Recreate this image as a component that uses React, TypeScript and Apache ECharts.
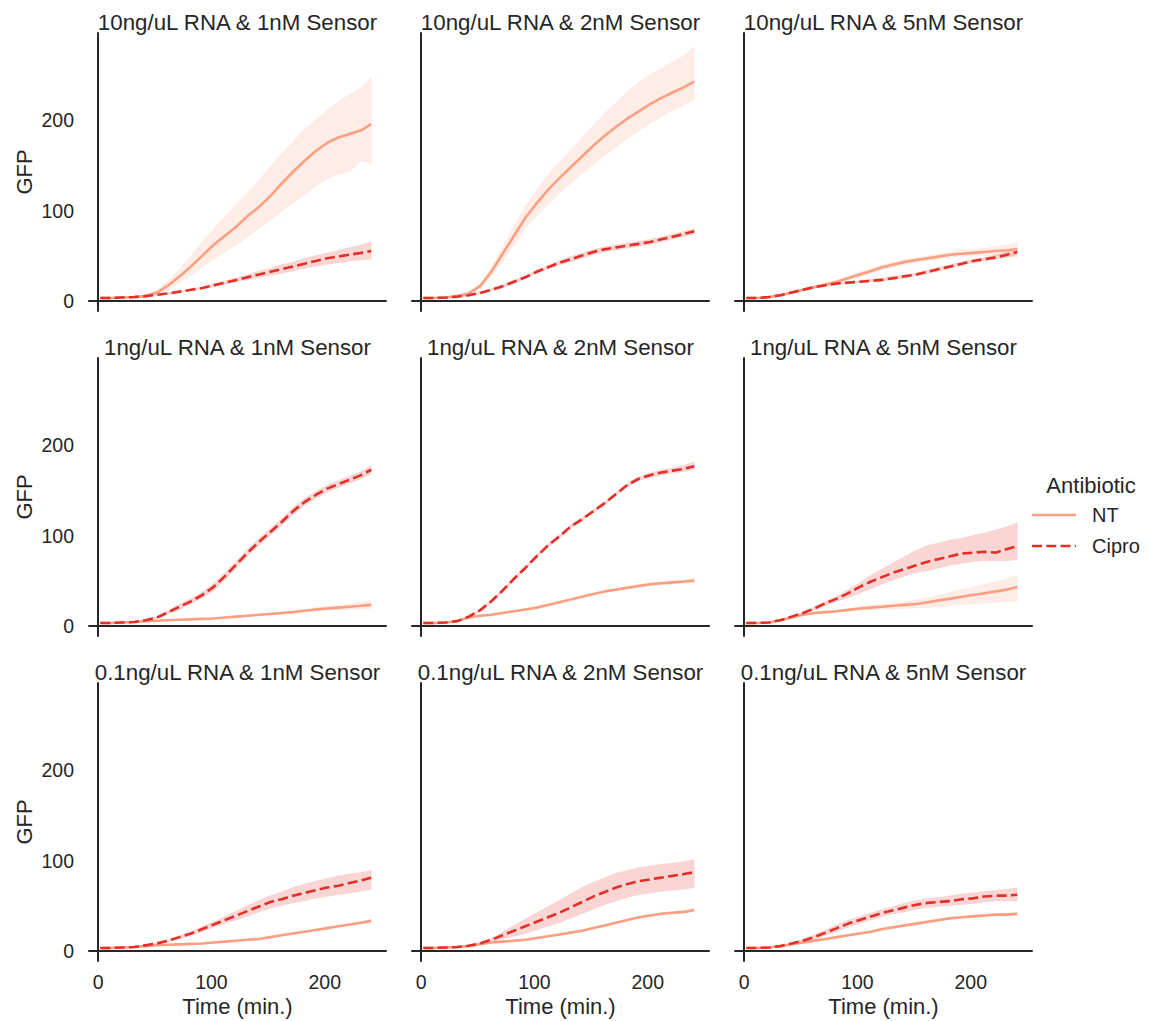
import { useEffect, useRef } from "react";
import * as echarts from "echarts";

// Sampling times (minutes) shared by every panel
const TIMES = [2, 12, 22, 32, 42, 52, 62, 72, 82, 92, 102, 112, 122, 132, 142, 152, 162, 172, 182, 192, 202, 212, 222, 232, 241];

const PANEL_TITLES = [
  "10ng/uL RNA & 1nM Sensor",
  "10ng/uL RNA & 2nM Sensor",
  "10ng/uL RNA & 5nM Sensor",
  "1ng/uL RNA & 1nM Sensor",
  "1ng/uL RNA & 2nM Sensor",
  "1ng/uL RNA & 5nM Sensor",
  "0.1ng/uL RNA & 1nM Sensor",
  "0.1ng/uL RNA & 2nM Sensor",
  "0.1ng/uL RNA & 5nM Sensor",
];

const X_TICKS = [0, 100, 200];
const Y_TICKS = [0, 100, 200];

// 10ng/uL RNA & 1nM Sensor
const P1_NT_MEAN = [3, 3, 3.5, 4, 5, 9, 17, 27, 38, 50, 62, 72, 82, 94, 104, 116, 130, 143, 155, 166, 175, 181, 185, 189, 196];
const P1_NT_HI = [4, 4, 4.5, 5, 7, 12, 22, 35, 50, 65, 80, 93, 107, 120, 134, 149, 163, 177, 190, 201, 211, 221, 229, 236, 248];
const P1_NT_LO = [2, 2, 2.5, 3, 4, 7, 12, 20, 28, 37, 46, 54, 62, 71, 80, 89, 99, 108, 117, 127, 135, 140, 143, 155, 152];
const P1_CI_MEAN = [3, 3, 3.5, 4, 5, 6.5, 8, 10, 12, 14, 17, 20, 23, 26, 29, 32, 35, 38, 41, 44, 47, 49, 51, 53, 55];
const P1_CI_HI = [3.5, 3.5, 4, 4.5, 5.5, 7, 9, 11, 13, 15, 19, 22, 25, 29, 33, 36, 40, 43, 47, 50, 53, 56, 59, 62, 65];
const P1_CI_LO = [2.5, 2.5, 3, 3.5, 4.5, 6, 7, 9, 11, 13, 15, 18, 21, 23, 26, 28, 30, 33, 36, 38, 40, 42, 44, 45, 46];

// 10ng/uL RNA & 2nM Sensor
const P2_NT_MEAN = [3, 3, 3.5, 5, 8, 16, 32, 52, 72, 92, 108, 123, 136, 148, 160, 172, 183, 193, 202, 210, 218, 225, 231, 237, 243];
const P2_NT_HI = [3.5, 3.5, 4, 6, 10, 19, 37, 60, 83, 105, 123, 140, 154, 167, 181, 195, 208, 220, 232, 242, 251, 258, 265, 272, 282];
const P2_NT_LO = [2.5, 2.5, 3, 4, 6, 13, 27, 44, 62, 80, 94, 107, 119, 130, 141, 151, 161, 170, 180, 188, 196, 204, 211, 217, 223];
const P2_CI_MEAN = [3, 3, 3.5, 4.5, 6, 8.5, 12, 16, 21, 26, 32, 37, 42, 46, 50, 54, 57, 59, 61, 63, 65, 68, 71, 74, 77];
const P2_CI_HI = [3.5, 3.5, 4, 5, 7, 10, 13.5, 18, 23, 28, 34, 39, 44.5, 49, 53, 57, 60, 62, 64, 66, 68, 71, 74, 77, 80];
const P2_CI_LO = [2.5, 2.5, 3, 4, 5, 7, 10.5, 14, 19, 24, 30, 35, 39.5, 43, 47, 51, 54, 56, 58, 60, 62, 65, 68, 71, 74];

// 10ng/uL RNA & 5nM Sensor
const P3_NT_MEAN = [3, 3, 4, 6, 9, 12, 15, 18, 21, 25, 29, 33, 37, 40, 43, 45, 47, 49, 51, 52, 53, 54, 55, 56, 57];
const P3_NT_HI = [3.5, 3.5, 4.5, 7, 10, 13, 16, 20, 23, 27, 32, 36, 40, 43, 46, 48, 50, 52, 54, 56, 57, 58, 60, 62, 65];
const P3_NT_LO = [2.5, 2.5, 3.5, 5, 8, 11, 14, 16, 19, 23, 26, 30, 34, 37, 40, 42, 44, 46, 48, 49, 50, 50, 50, 49, 48];
const P3_CI_MEAN = [3, 3, 4, 6, 9, 12, 15, 17, 19, 20, 21, 22, 23, 25, 27, 29, 32, 35, 38, 41, 44, 46, 48, 51, 54];
const P3_CI_HI = [3.5, 3.5, 4.5, 7, 10, 13, 16, 18, 20, 21, 22, 24, 25, 27, 29, 31, 34, 37, 40, 43, 46, 48, 51, 54, 58];
const P3_CI_LO = [2.5, 2.5, 3.5, 5, 8, 11, 14, 16, 18, 19, 20, 21, 22, 23, 25, 27, 30, 33, 36, 39, 42, 44, 46, 48, 51];

// 1ng/uL RNA & 1nM Sensor
const P4_NT_MEAN = [3, 3, 3.5, 4, 5, 5.5, 6, 6.5, 7, 7.5, 8, 9, 10, 11, 12, 13, 14, 15, 16.5, 18, 19, 20, 21, 22, 23];
const P4_NT_HI = [3.5, 3.5, 4, 4.5, 5.5, 6, 6.5, 7, 7.5, 8, 9, 10, 11, 12, 13, 14, 15, 16, 18, 20, 21, 23, 24, 26, 28];
const P4_NT_LO = [2.5, 2.5, 3, 3.5, 4.5, 5, 5.5, 6, 6.5, 7, 7.5, 8, 9, 10, 11, 12, 13, 14, 15, 16, 17, 17.5, 18, 18.5, 19];
const P4_CI_MEAN = [3, 3, 3.5, 4, 6, 9, 15, 21, 27, 34, 43, 55, 68, 81, 93, 104, 115, 127, 137, 145, 152, 157, 162, 167, 173];
const P4_CI_HI = [3.5, 3.5, 4, 5, 7, 10, 17, 24, 30, 37, 47, 59, 72, 85, 97, 108, 119, 131, 141, 149, 156, 161, 166, 171, 178];
const P4_CI_LO = [2.5, 2.5, 3, 3.5, 5, 8, 13, 18, 24, 31, 39, 51, 64, 77, 89, 100, 111, 123, 133, 141, 148, 153, 158, 163, 168];

// 1ng/uL RNA & 2nM Sensor
const P5_NT_MEAN = [3, 3, 3.5, 5, 9, 11, 12, 14, 16, 18, 20, 23, 26, 29, 32, 35, 38, 40, 42, 44, 46, 47, 48, 49, 50];
const P5_NT_HI = [3.5, 3.5, 4, 5.5, 9.5, 12, 13, 15, 17, 19, 21, 24, 27, 30, 33, 36, 39, 41, 44, 46, 48, 49, 50, 51, 53];
const P5_NT_LO = [2.5, 2.5, 3, 4.5, 8.5, 10, 11, 13, 15, 17, 19, 22, 25, 28, 31, 34, 37, 39, 40, 42, 44, 45, 46, 47, 47];
const P5_CI_MEAN = [3, 3, 3.5, 5, 10, 17, 27, 39, 52, 64, 77, 89, 99, 110, 118, 127, 136, 146, 156, 163, 167, 170, 172, 174, 177];
const P5_CI_HI = [3.5, 3.5, 4, 5.5, 11, 18, 29, 41, 54, 66, 79, 91, 101, 112, 120, 129, 138, 148, 158, 165, 170, 173, 175, 178, 182];
const P5_CI_LO = [2.5, 2.5, 3, 4.5, 9, 16, 25, 37, 50, 62, 75, 87, 97, 108, 116, 125, 134, 144, 154, 161, 164, 167, 169, 171, 173];

// 1ng/uL RNA & 5nM Sensor
const P6_NT_MEAN = [3, 3, 3.5, 6, 9, 12, 14, 15, 16, 17.5, 19, 20, 21, 22, 23, 24, 26, 28, 30, 32, 34, 36, 38, 40, 43];
const P6_NT_HI = [3.5, 3.5, 4, 6.5, 10, 13, 15, 16, 17, 19, 21, 22.5, 24, 25.5, 27, 29, 31, 34, 37, 40, 43, 46, 49, 52, 56];
const P6_NT_LO = [2.5, 2.5, 3, 5.5, 8, 11, 13, 14, 15, 16, 17, 17.5, 18, 18.5, 19, 19.5, 20, 21, 22, 23, 24, 25, 26, 26.5, 27];
const P6_CI_MEAN = [3, 3, 3.5, 6, 10, 14, 19, 25, 30, 36, 43, 49, 54, 59, 63, 67, 71, 74, 77, 80, 81, 82, 81, 85, 88];
const P6_CI_HI = [3.5, 3.5, 4, 6.5, 11, 15, 21, 27, 33, 40, 48, 56, 63, 70, 77, 84, 89, 92, 95, 97, 100, 103, 106, 110, 114];
const P6_CI_LO = [2.5, 2.5, 3, 5.5, 9, 13, 17, 22, 27, 31, 36, 41, 46, 51, 55, 59, 61, 64, 67, 69, 71, 72, 72, 72, 73];

// 0.1ng/uL RNA & 1nM Sensor
const P7_NT_MEAN = [3, 3, 3.5, 4, 5, 6, 6.5, 7, 7.5, 8, 9, 10, 11, 12, 13, 15, 17, 19, 21, 23, 25, 27, 29, 31, 33];
const P7_NT_HI = [3.5, 3.5, 4, 4.5, 5.5, 6.5, 7, 7.5, 8, 8.5, 9.5, 10.5, 11.5, 12.5, 13.5, 15.5, 17.5, 19.5, 22, 24, 26, 28, 30, 32.5, 35];
const P7_NT_LO = [2.5, 2.5, 3, 3.5, 4.5, 5.5, 6, 6.5, 7, 7.5, 8.5, 9.5, 10.5, 11.5, 12.5, 14.5, 16.5, 18.5, 20, 22, 24, 26, 28, 29.5, 31];
const P7_CI_MEAN = [3, 3, 3.5, 4, 6, 8, 11, 15, 19, 24, 29, 34, 39, 44, 49, 54, 57, 61, 64, 67, 70, 72, 75, 78, 81];
const P7_CI_HI = [3.5, 3.5, 4, 4.5, 7, 9, 12, 17, 21, 27, 32, 38, 44, 50, 56, 61, 65, 70, 74, 77, 80, 83, 85, 87, 89];
const P7_CI_LO = [2.5, 2.5, 3, 3.5, 5, 7, 10, 13, 17, 21, 26, 30, 34, 38, 43, 47, 50, 53, 55, 58, 60, 62, 64, 66, 68];

// 0.1ng/uL RNA & 2nM Sensor
const P8_NT_MEAN = [3, 3, 3.5, 4, 5, 7, 9, 10, 11, 12, 14, 16, 18, 20, 22, 25, 28, 31, 34, 37, 39, 41, 42, 43, 45];
const P8_NT_HI = [3.5, 3.5, 4, 4.5, 5.5, 7.5, 9.5, 11, 12, 13, 15, 17, 19, 21, 23, 26, 29, 32, 35, 38.5, 40.5, 42.5, 43.5, 44.5, 46.5];
const P8_NT_LO = [2.5, 2.5, 3, 3.5, 4.5, 6.5, 8.5, 9, 10, 11, 13, 15, 17, 19, 21, 24, 27, 30, 33, 35.5, 37.5, 39.5, 40.5, 41.5, 43.5];
const P8_CI_MEAN = [3, 3, 3.5, 4, 5.5, 8, 12, 17, 22, 27, 32, 37, 42, 48, 54, 60, 65, 70, 74, 77, 79, 81, 83, 85, 87];
const P8_CI_HI = [3.5, 3.5, 4, 4.5, 6.5, 9.5, 14, 21, 28, 35, 42, 49, 56, 63, 70, 76, 81, 86, 89, 92, 94, 96, 97, 99, 101];
const P8_CI_LO = [2.5, 2.5, 3, 3.5, 5, 7, 10, 13, 16, 19, 23, 27, 31, 36, 41, 46, 51, 55, 59, 62, 64, 66, 67, 68, 70];

// 0.1ng/uL RNA & 5nM Sensor
const P9_NT_MEAN = [3, 3, 3.5, 5, 7, 9, 11, 13, 15, 17, 19, 21, 24, 26, 28, 30, 32, 34, 36, 37, 38, 39, 40, 40, 41];
const P9_NT_HI = [3.5, 3.5, 4, 5.5, 7.5, 10, 12, 14, 16, 18, 20, 22.5, 25.5, 27.5, 29.5, 31.5, 33.5, 35.5, 37.5, 38.5, 39.5, 40.5, 41.5, 42, 43];
const P9_NT_LO = [2.5, 2.5, 3, 4.5, 6.5, 8, 10, 12, 14, 16, 18, 19.5, 22.5, 24.5, 26.5, 28.5, 30.5, 32.5, 34.5, 35.5, 36.5, 37.5, 38.5, 38, 39];
const P9_CI_MEAN = [3, 3, 3.5, 5, 8, 11, 15, 20, 25, 30, 34, 38, 42, 45, 48, 51, 53, 54, 55, 57, 58, 60, 61, 61, 62];
const P9_CI_HI = [3.5, 3.5, 4, 5.5, 9, 13, 18, 23, 29, 34, 38, 42, 46, 49, 53, 56, 58, 59, 61, 63, 64, 66, 67, 68, 70];
const P9_CI_LO = [2.5, 2.5, 3, 4.5, 7, 9, 12, 17, 21, 26, 30, 34, 38, 41, 43, 46, 48, 49, 50, 51, 52, 54, 55, 55, 55];

const NT_COLOR = "#fc9e80";
const CIPRO_COLOR = "#e32f27";
const INK = "#262626";
const FONT = "'Liberation Sans', Arial, Helvetica, sans-serif";

type Band = { mean: number[]; lo: number[]; hi: number[] };
type Panel = { title: string; nt: Band; cipro: Band };

const PANELS: Panel[] = [
  { title: PANEL_TITLES[0], nt: { mean: P1_NT_MEAN, lo: P1_NT_LO, hi: P1_NT_HI }, cipro: { mean: P1_CI_MEAN, lo: P1_CI_LO, hi: P1_CI_HI } },
  { title: PANEL_TITLES[1], nt: { mean: P2_NT_MEAN, lo: P2_NT_LO, hi: P2_NT_HI }, cipro: { mean: P2_CI_MEAN, lo: P2_CI_LO, hi: P2_CI_HI } },
  { title: PANEL_TITLES[2], nt: { mean: P3_NT_MEAN, lo: P3_NT_LO, hi: P3_NT_HI }, cipro: { mean: P3_CI_MEAN, lo: P3_CI_LO, hi: P3_CI_HI } },
  { title: PANEL_TITLES[3], nt: { mean: P4_NT_MEAN, lo: P4_NT_LO, hi: P4_NT_HI }, cipro: { mean: P4_CI_MEAN, lo: P4_CI_LO, hi: P4_CI_HI } },
  { title: PANEL_TITLES[4], nt: { mean: P5_NT_MEAN, lo: P5_NT_LO, hi: P5_NT_HI }, cipro: { mean: P5_CI_MEAN, lo: P5_CI_LO, hi: P5_CI_HI } },
  { title: PANEL_TITLES[5], nt: { mean: P6_NT_MEAN, lo: P6_NT_LO, hi: P6_NT_HI }, cipro: { mean: P6_CI_MEAN, lo: P6_CI_LO, hi: P6_CI_HI } },
  { title: PANEL_TITLES[6], nt: { mean: P7_NT_MEAN, lo: P7_NT_LO, hi: P7_NT_HI }, cipro: { mean: P7_CI_MEAN, lo: P7_CI_LO, hi: P7_CI_HI } },
  { title: PANEL_TITLES[7], nt: { mean: P8_NT_MEAN, lo: P8_NT_LO, hi: P8_NT_HI }, cipro: { mean: P8_CI_MEAN, lo: P8_CI_LO, hi: P8_CI_HI } },
  { title: PANEL_TITLES[8], nt: { mean: P9_NT_MEAN, lo: P9_NT_LO, hi: P9_NT_HI }, cipro: { mean: P9_CI_MEAN, lo: P9_CI_LO, hi: P9_CI_HI } },
];

// Facet grid geometry
const GRID_LEFT0 = 89;
const GRID_TOP0 = 33;
const GRID_W = 297;
const GRID_H = 278;
const COL_STEP = 323;
const ROW_STEP = 325;

const LINE_W = 2.6;
const DASH = [10, 4.3];

// Confidence band: one polygon through the upper edge and back along the lower edge
function bandRenderer(fill: string) {
  return (params: any, api: any) => {
    if (params.dataIndexInside !== 0) return null;
    const n = params.dataInsideLength;
    const upper: number[][] = [];
    const lower: number[][] = [];
    for (let k = 0; k < n; k++) {
      const t = api.value(0, k);
      upper.push(api.coord([t, api.value(2, k)]));
      lower.push(api.coord([t, api.value(1, k)]));
    }
    return {
      type: "polygon",
      shape: { points: upper.concat(lower.reverse()) },
      style: { fill, opacity: 0.2, stroke: fill, lineWidth: 0.6, strokeOpacity: 0.5 },
      silent: true,
    };
  };
}

function buildOption() {
  const grids: any[] = [];
  const xAxes: any[] = [];
  const yAxes: any[] = [];
  const series: any[] = [];
  const graphics: any[] = [];

  PANELS.forEach((p, i) => {
    const row = Math.floor(i / 3);
    const col = i % 3;
    const left = GRID_LEFT0 + col * COL_STEP;
    const top = GRID_TOP0 + row * ROW_STEP;
    grids.push({ left, top, width: GRID_W, height: GRID_H, containLabel: false });

    const axisLine = { show: true, lineStyle: { color: INK, width: 2 } };
    xAxes.push({
      type: "value",
      gridIndex: i,
      min: -8,
      max: 254,
      axisLine,
      axisTick: { show: false },
      splitLine: { show: false },
      axisLabel: {
        show: row === 2,
        customValues: X_TICKS,
        color: INK,
        fontSize: 19.5,
        fontFamily: FONT,
        margin: 11,
      },
      name: row === 2 ? "Time (min.)" : "",
      nameLocation: "middle",
      nameGap: 34,
      nameTextStyle: { color: INK, fontSize: 22, fontFamily: FONT },
    });
    yAxes.push({
      type: "value",
      gridIndex: i,
      min: -11.5,
      max: 297,
      axisLine,
      axisTick: { show: false },
      splitLine: { show: false },
      axisLabel: {
        show: col === 0,
        customValues: Y_TICKS,
        color: INK,
        fontSize: 19.5,
        fontFamily: FONT,
        margin: 15,
      },
      name: col === 0 ? "GFP" : "",
      nameLocation: "middle",
      nameGap: 54,
      nameTextStyle: { color: INK, fontSize: 22, fontFamily: FONT },
    });

    graphics.push({
      type: "text",
      x: left + GRID_W / 2,
      y: top - 11,
      style: {
        text: p.title,
        fill: INK,
        fontSize: 22.3,
        fontFamily: FONT,
        textAlign: "center",
        textVerticalAlign: "middle",
      },
    });

    const groups: [string, Band, string, boolean][] = [
      ["NT", p.nt, NT_COLOR, false],
      ["Cipro", p.cipro, CIPRO_COLOR, true],
    ];
    groups.forEach(([name, b, color, dashed]) => {
      series.push({
        type: "custom",
        name: `${name} band`,
        xAxisIndex: i,
        yAxisIndex: i,
        data: TIMES.map((t, k) => [t, b.lo[k], b.hi[k]]),
        encode: { x: 0, y: [1, 2] },
        renderItem: bandRenderer(color),
        silent: true,
        clip: true,
      });
      series.push({
        type: "line",
        name,
        xAxisIndex: i,
        yAxisIndex: i,
        data: TIMES.map((t, k) => [t, b.mean[k]]),
        symbol: "none",
        lineStyle: { color, width: LINE_W, type: dashed ? DASH : "solid", cap: "butt" },
      });
    });
  });

  // Legend drawn to the right of the facets
  const legX = 1032;
  graphics.push(
    {
      type: "text",
      x: 1091,
      y: 485,
      style: { text: "Antibiotic", fill: INK, fontSize: 22, fontFamily: FONT, textAlign: "center", textVerticalAlign: "middle" },
    },
    {
      type: "line",
      shape: { x1: legX, y1: 515, x2: legX + 44, y2: 515 },
      style: { stroke: NT_COLOR, lineWidth: LINE_W },
    },
    {
      type: "text",
      x: 1092,
      y: 515,
      style: { text: "NT", fill: INK, fontSize: 20, fontFamily: FONT, textAlign: "left", textVerticalAlign: "middle" },
    },
    {
      type: "line",
      shape: { x1: legX, y1: 546, x2: legX + 44, y2: 546 },
      style: { stroke: CIPRO_COLOR, lineWidth: LINE_W, lineDash: DASH },
    },
    {
      type: "text",
      x: 1092,
      y: 546,
      style: { text: "Cipro", fill: INK, fontSize: 20, fontFamily: FONT, textAlign: "left", textVerticalAlign: "middle" },
    }
  );

  return {
    animation: false,
    backgroundColor: "#ffffff",
    grid: grids,
    xAxis: xAxes,
    yAxis: yAxes,
    series,
    graphic: graphics,
  };
}

export default function App() {
  const ref = useRef<HTMLDivElement>(null);

  useEffect(() => {
    document.body.style.margin = "0";
    if (!ref.current) return;
    const chart = echarts.init(ref.current, undefined, { renderer: "svg" });
    chart.setOption(buildOption() as any);
    return () => chart.dispose();
  }, []);

  return <div ref={ref} style={{ width: 1149, height: 1021 }} />;
}
